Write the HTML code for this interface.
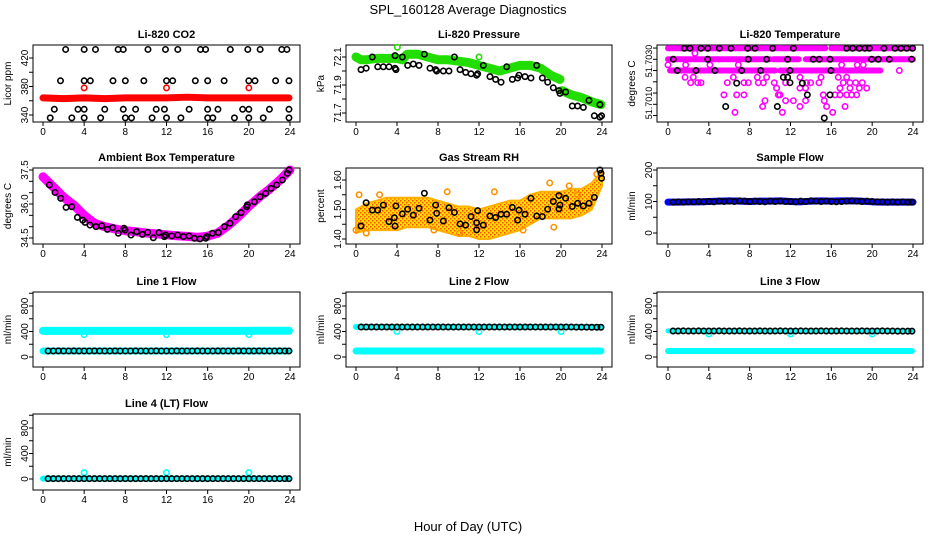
<!DOCTYPE html>
<html><head><meta charset="utf-8"><style>
html,body{margin:0;padding:0;background:#fff;}
svg{display:block;font-family:"Liberation Sans",sans-serif;}
</style></head><body>
<svg id="chart" width="936" height="540" viewBox="0 0 936 540" xmlns="http://www.w3.org/2000/svg">
<defs>
<pattern id="rhp" width="4" height="4" patternUnits="userSpaceOnUse"><rect width="4" height="4" fill="#ffdd00"/><rect x="0" y="0" width="1.5" height="1.5" fill="#ff5000"/><rect x="2" y="2" width="1.5" height="1.5" fill="#ff5000"/></pattern>
</defs>
<text x="468" y="14" text-anchor="middle" font-size="13">SPL_160128  Average Diagnostics</text>
<text x="468" y="531" text-anchor="middle" font-size="13">Hour of Day (UTC)</text>
</svg>
<script>
// ---------- data ----------
const xTicks=[0,4,8,12,16,20,24];
// CO2
const co2BandHours=[0,2,4,6,8,10,12,14,16,18,20,22,23.9];
const co2BandValues=[364,363,364,363,364,364,364,365,364,364,364,364,364];
const co2RedHours=[4,12,20];
const co2RedValues=[378,378,378];
const co2BlackHours=[2.2,4.0,5.1,7.3,7.8,10.2,11.9,13.1,15.3,15.8,18.2,19.9,21.1,23.2,23.7,
 1.7,4.0,4.6,6.8,8.0,9.8,12.0,12.6,14.8,16.0,17.6,20.0,20.6,22.6,23.9,
 1.1,3.4,4.0,6.0,7.8,9.0,11.0,11.8,14.2,16.0,17.0,19.4,20.0,22.0,23.9,
 0.7,2.8,4.0,5.6,8.0,8.6,10.6,12.0,13.4,16.0,16.5,18.6,20.0,21.4,23.9];
const co2BlackValues=[432,432,432,432,432,432,432,432,432,432,432,432,432,432,432,
 388,388,388,388,388,388,388,388,388,388,388,388,388,388,388,
 348,348,348,348,348,348,348,348,348,348,348,348,348,348,348,
 336,336,336,336,336,336,336,336,336,336,336,336,336,336,336];
// Pressure
const presBand1Hours=[0,0.5,1,2,3,4,4.5,5,6,7,8,9,10,11,12,13,14,15,16,17,18,19,19.9];
const presBand1Values=[72.10,72.08,72.08,72.09,72.09,72.09,72.08,72.12,72.12,72.10,72.08,72.08,72.07,72.06,72.04,72.02,72.00,72.02,72.04,72.04,72.02,71.97,71.94];
const presBand2Hours=[20.1,21,22,23,23.9];
const presBand2Values=[71.86,71.83,71.81,71.78,71.76];
const presGreenHours=[4.03,12.0];
const presGreenValues=[72.17,72.10];
const presBlackHours=[0.49,0.99,1.59,2.12,2.67,3.22,3.81,3.81,3.9,4.52,5.04,5.59,6.15,6.67,7.22,7.77,7.87,8.52,9.07,9.6,10.15,10.7,11.22,11.77,11.87,12.42,13.07,13.62,14.15,14.7,15.25,15.77,15.9,16.49,17.07,17.63,18.18,18.7,19.25,19.8,19.9,20.45,21.1,21.62,22.18,22.73,23.25,23.8,23.96,23.8];
const presBlackValues=[72.01,72.02,72.10,72.03,72.03,72.03,72.11,72.02,72.01,72.10,72.04,72.05,72.04,72.12,72.02,72.01,72.00,72.00,72.00,72.10,72.01,71.99,71.98,71.97,71.98,72.04,71.96,71.94,71.92,72.03,71.94,71.95,71.97,71.96,71.95,72.04,71.95,71.92,71.88,71.86,71.84,71.85,71.75,71.75,71.74,71.79,71.68,71.67,71.68,71.76];
// Temperature
const tempRunStart=[0,16.0,0,5.7,7.5,10.3,13.5,0.2,4.8,11.0];
const tempRunEnd=[15.4,24,5.5,7.3,10.0,12.8,24,4.5,10.5,20.8];
const tempRunValue=[51.70349,51.70349,51.70300,51.70300,51.70300,51.70300,51.70300,51.70250,51.70250,51.70250];
const tempPinkHours=[2.64,0.0,1.73,6.89,4.11,17.01,18.54,19.13,22.66,1.67,2.48,6.40,8.75,9.66,12.93,14.99,16.68,17.5,2.22,2.91,3.23,5.81,7.44,7.87,8.85,9.34,10.41,11.52,13.58,13.97,14.79,17.17,17.83,18.38,19.03,10.64,12.93,13.48,16.85,17.83,18.74,19.46,5.48,6.73,7.44,10.81,10.97,15.21,16.36,16.85,17.5,17.99,18.48,9.5,11.52,12.28,13.48,15.31,9.27,12.93,15.54,17.34,6.56,11.2,16.13];
const tempPinkValues=[51.70327,51.70275,51.70275,51.70275,51.70275,51.70275,51.70275,51.70275,51.70250,51.70220,51.70220,51.70220,51.70220,51.70220,51.70220,51.70220,51.70220,51.70220,51.70196,51.70196,51.70196,51.70196,51.70196,51.70196,51.70196,51.70196,51.70196,51.70196,51.70196,51.70196,51.70196,51.70196,51.70196,51.70196,51.70196,51.70172,51.70172,51.70172,51.70172,51.70172,51.70172,51.70172,51.70142,51.70142,51.70142,51.70142,51.70142,51.70142,51.70142,51.70142,51.70142,51.70142,51.70142,51.70116,51.70116,51.70116,51.70116,51.70116,51.70090,51.70090,51.70090,51.70090,51.70064,51.70064,51.70064];
const tempBlackHours=[0.52,1.6,2.15,3.23,3.89,5.03,6.17,7.8,8.52,10.25,12.28,3.89,7.87,9.66,11.72,14.23,15.87,17.5,18.09,18.74,19.29,19.72,21.16,22.23,22.82,23.38,23.96,23.87,21.68,19.95,20.6,14.82,0.91,2.74,4.6,7.22,9.08,11.95,15.96,11.3,11.72,6.73,11.95,13.16,13.65,15.87,5.65,10.71,15.31];
const tempBlackValues=[51.70300,51.70349,51.70349,51.70349,51.70349,51.70349,51.70349,51.70349,51.70349,51.70349,51.70349,51.70300,51.70300,51.70300,51.70300,51.70300,51.70300,51.70349,51.70349,51.70349,51.70349,51.70349,51.70349,51.70349,51.70349,51.70349,51.70349,51.70300,51.70300,51.70300,51.70300,51.70300,51.70250,51.70250,51.70250,51.70250,51.70250,51.70250,51.70250,51.70220,51.70220,51.70194,51.70196,51.70194,51.70142,51.70142,51.70090,51.70090,51.70039];
// Ambient
const ambPinkHours=[0,1,2,3,4,5,6,7,8,9,10,11,12,13,14,15,16,17,18,19,20,21,22,23,24];
const ambPinkValues=[37.2,36.75,36.3,35.95,35.5,35.15,35.0,34.9,34.82,34.78,34.72,34.68,34.64,34.6,34.57,34.53,34.58,34.72,35.05,35.45,35.9,36.3,36.65,37.05,37.5];
const ambBlackHours=[0.62,1.17,1.72,2.24,2.79,3.34,3.86,4.08,4.57,5.15,5.70,6.25,6.77,7.32,7.87,7.97,8.55,9.1,9.65,10.17,10.72,11.27,11.79,11.92,12.5,13.09,13.64,14.19,14.71,15.26,15.81,15.91,16.46,17.04,17.62,18.17,18.72,19.24,19.79,19.86,20.54,21.09,21.64,22.16,22.71,23.26,23.74,23.91];
const ambBlackValues=[36.84,36.51,36.25,35.85,35.88,35.41,35.29,35.19,35.07,35.0,35.04,34.88,34.96,34.71,34.93,34.85,34.63,34.78,34.66,34.75,34.51,34.74,34.56,34.63,34.59,34.63,34.56,34.59,34.49,34.46,34.49,34.56,34.71,34.74,35.0,35.15,35.44,35.62,35.88,35.96,36.10,36.32,36.47,36.69,36.84,37.06,37.35,37.5];
// RH
const rhBandHours=[0,1,2,3,4,5,6,7,8,9,10,11,12,13,14,15,16,17,18,19,20,21,22,23,24];
const rhBandLower=[1.42,1.43,1.43,1.43,1.43,1.44,1.44,1.44,1.43,1.42,1.41,1.41,1.40,1.40,1.41,1.42,1.43,1.45,1.47,1.47,1.47,1.47,1.48,1.50,1.58];
const rhBandUpper=[1.50,1.52,1.53,1.54,1.54,1.54,1.54,1.54,1.53,1.52,1.51,1.51,1.50,1.51,1.52,1.53,1.53,1.55,1.56,1.56,1.56,1.57,1.57,1.59,1.63];
const rhOrangeHours=[0.0,0.3,1.0,2.3,7.6,8.9,10.1,13.5,16.3,18.9,19.3,20.8,21.6,23.5];
const rhOrangeValues=[1.43,1.55,1.42,1.55,1.43,1.56,1.42,1.56,1.43,1.59,1.44,1.58,1.55,1.62];
const rhBlackHours=[0.49,0.99,1.59,2.12,2.67,3.22,3.74,3.81,3.9,4.52,5.04,5.59,6.15,6.67,7.22,7.77,7.87,8.52,9.07,9.6,10.15,10.7,11.22,11.77,11.77,11.87,12.42,13.07,13.62,14.15,14.7,15.25,15.77,15.9,16.49,17.07,17.63,18.18,18.7,19.25,19.8,19.8,19.9,20.45,21.1,21.62,22.18,22.73,23.25,23.8,23.9,23.96];
const rhBlackValues=[1.444,1.523,1.498,1.498,1.515,1.459,1.472,1.444,1.512,1.485,1.501,1.481,1.504,1.555,1.464,1.515,1.487,1.461,1.506,1.490,1.451,1.447,1.476,1.455,1.431,1.496,1.447,1.478,1.473,1.484,1.484,1.507,1.464,1.498,1.484,1.538,1.478,1.476,1.501,1.527,1.547,1.502,1.515,1.538,1.510,1.521,1.512,1.521,1.541,1.634,1.623,1.606];
// Sample flow
const sfBlueHours=[0,1,2,3,4,5,6,7,8,9,10,11,12,13,14,15,16,17,18,19,20,21,22,23,24];
const sfBlueValues=[98,98,99,99,100,101,102,101,100,101,101,102,100,99,101,102,101,102,102,101,99,98,98,98,98];
const halfHours=[0.5,1,1.5,2,2.5,3,3.5,4,4.5,5,5.5,6,6.5,7,7.5,8,8.5,9,9.5,10,10.5,11,11.5,12,12.5,13,13.5,14,14.5,15,15.5,16,16.5,17,17.5,18,18.5,19,19.5,20,20.5,21,21.5,22,22.5,23,23.5,23.9];
const sfBlackValues=[98,99,98,99,99,100,99,100,99,101,100,101,100,102,101,100,101,100,99,101,100,101,100,100,99,101,100,102,101,100,101,100,99,100,101,102,101,100,101,100,99,99,98,99,98,99,98,98];
// Line flows
const flowHours=[0,1,2,3,4,5,6,7,8,9,10,11,12,13,14,15,16,17,18,19,20,21,22,23,23.9];
const l1CyanHigh=[410,410,410,410,410,410,410,410,410,410,410,410,410,410,410,410,410,410,410,410,410,412,412,412,412];
const l1CyanLow=[95,95,95,95,95,95,95,95,95,95,95,95,95,95,95,95,95,95,95,95,95,95,95,95,95];
const l1Black=[95,95,96,95,95,96,95,95,95,96,95,95,95,96,95,95,95,96,95,95,95,96,95,95,95,96,95,95,95,96,95,95,95,96,95,95,95,96,95,95,95,96,95,95,95,96,95,95];
const dipHours=[4,12,20];
const l1Dips=[350,350,350];
const l2CyanLow=[95,95,95,95,95,95,95,95,95,95,95,95,95,95,95,95,95,95,95,95,95,95,95,95,95];
const l2CyanHigh=[472,470,470,470,470,470,470,470,470,470,470,470,470,470,470,470,470,470,470,470,470,470,470,470,470];
const l2Black=[470,470,471,470,470,471,470,470,470,471,470,470,470,471,470,470,470,471,470,470,470,471,470,470,470,471,470,470,470,471,470,470,470,471,470,470,470,471,470,470,470,471,468,468,468,467,467,467];
const l2Dips=[400,400,400];
const l3CyanLow=[95,95,95,95,95,95,95,95,95,95,95,95,95,95,95,95,95,95,95,95,95,95,95,95,95];
const l3CyanHigh=[410,408,408,408,408,408,408,408,408,408,408,408,408,408,408,408,408,408,408,408,408,408,408,408,408];
const l3Black=[408,408,409,408,408,409,408,408,408,409,408,408,408,409,408,408,408,409,408,408,408,409,408,408,408,409,408,408,408,409,408,408,408,409,408,408,408,409,408,408,408,409,408,408,405,405,405,405];
const l3Dips=[360,360,360];
const l4Cyan=[5,5,5,5,5,5,5,5,5,5,5,5,5,5,5,5,5,5,5,5,5,5,5,5,5];
const l4Black=[5,5,5,5,5,5,5,5,5,5,5,5,5,5,5,5,5,5,5,5,5,5,5,5,5,5,5,5,5,5,5,5,5,5,5,5,5,5,5,5,5,5,5,5,5,5,5,5];
const l4Spikes=[100,100,100];

// ---------- drawing ----------
const NS='http://www.w3.org/2000/svg';
const svg=document.getElementById('chart');
const colL=[33,346,657], colR=[300,612,923], colX0=[43,356,668], colX24=[290,602,913];
const rowT=[45,168,292,414], rowB=[122,244,367,490];
function mk(tag,attrs,parent){const e=document.createElementNS(NS,tag);for(const k in attrs)e.setAttribute(k,attrs[k]);if(parent)parent.appendChild(e);return e;}

function panel(c,r,name,title,ylab,yA,pA,yB,pB,ticks,labels,labelPos,labelSize){
  const L=colL[c],R=colR[c],T=rowT[r],B=rowB[r],X0=colX0[c],X24=colX24[c];
  const g=mk('g',{},svg);
  
  
  const sx=h=>X0+(X24-X0)*h/24;
  const sy=v=>pA+(v-yA)*(pB-pA)/(yB-yA);
  const box=mk('rect',{x:L,y:T,width:R-L,height:B-T,fill:'none',stroke:'#000','stroke-width':1},g);
  
  
  const tt=mk('text',{x:(L+R)/2,y:T-7,'text-anchor':'middle','font-size':11,'font-weight':'bold'},g);
  tt.textContent=title;
  
  
  const yl=mk('text',{x:L-22,y:(T+B)/2,'text-anchor':'middle','font-size':10,transform:`rotate(-90 ${L-22} ${(T+B)/2})`},g);
  yl.textContent=ylab;
  
  
  ticks.forEach(v=>{
    const ln=mk('line',{x1:L-4,x2:L,y1:sy(v),y2:sy(v),stroke:'#000'},g);
    
    
  });
  labels.forEach((s,i)=>{
    const yy=labelPos?labelPos[i]:sy(parseFloat(s));
    const t=mk('text',{x:L-5,y:yy,'text-anchor':'middle','font-size':labelSize||10,transform:`rotate(-90 ${L-5} ${yy})`},g);
    t.textContent=s;
    
    
  });
  xTicks.forEach(h=>{
    const ln=mk('line',{x1:sx(h),x2:sx(h),y1:B,y2:B+4,stroke:'#000'},g);
    
    
    const t=mk('text',{x:sx(h),y:B+13,'text-anchor':'middle','font-size':10},g);
    t.textContent=String(h);
    
    
  });
  const clip=mk('g',{},g);
  
  
  return {g:clip,sx,sy};
}
function points(p,hours,vals,color,name,r,sw){
  hours.forEach((h,i)=>{
    const c=mk('circle',{cx:p.sx(h),cy:p.sy(vals[i]),r:r||2.7,fill:'none',stroke:color,'stroke-width':sw||1.6},p.g);
    
    
  });
}
function band(p,hours,vals,color,width,name){
  const pts=hours.map((h,i)=>p.sx(h)+','+p.sy(vals[i])).join(' ');
  const pl=mk('polyline',{points:pts,fill:'none',stroke:color,'stroke-width':width,'stroke-linecap':'round','stroke-linejoin':'round'},p.g);
  
  
}

// CO2
let p=panel(0,0,'co2','Li-820 CO2','Licor ppm',340,115,420,58,[340,360,380,400,420],['340','380','420']);
band(p,co2BandHours,co2BandValues,'#ff0000',7,'co2-red-band');
points(p,co2RedHours,co2RedValues,'#ff0000','co2-red-point');
points(p,co2BlackHours,co2BlackValues,'#000','co2-black-point');
// Pressure
p=panel(1,0,'pressure','Li-820 Pressure','kPa',71.7,113,72.1,57,[71.7,71.8,71.9,72.0,72.1],['71.7','71.9','72.1']);
band(p,presBand1Hours,presBand1Values,'#22dd00',9,'pressure-green-band');
band(p,presBand2Hours,presBand2Values,'#22dd00',9,'pressure-green-band');
points(p,presGreenHours,presGreenValues,'#22dd00','pressure-green-point');
points(p,presBlackHours,presBlackValues,'#000','pressure-black-point');
// Temperature
p=panel(2,0,'temperature','Li-820 Temperature','degrees C',51.7010,104.3,51.7030,59.3,[51.7035,51.7030,51.7025,51.7020,51.7015,51.7010,51.7005],['51.7030','51.7010'],[61,103],9);
tempRunStart.forEach((s,i)=>{
  const ln=mk('line',{x1:p.sx(s),x2:p.sx(tempRunEnd[i]),y1:p.sy(tempRunValue[i]),y2:p.sy(tempRunValue[i]),stroke:'#ff00ff','stroke-width':6,'stroke-linecap':'round'},p.g);
  
  
});
points(p,tempPinkHours,tempPinkValues,'#ff00ff','temperature-pink-point');
points(p,tempBlackHours,tempBlackValues,'#000','temperature-black-point');
// Ambient
p=panel(0,1,'ambient','Ambient Box Temperature','degrees C',34.5,238,37.5,170,[34.5,35.0,35.5,36.0,36.5,37.0,37.5],['34.5','36.0','37.5']);
band(p,ambPinkHours,ambPinkValues,'#ff00ff',9,'ambient-pink-band');
points(p,ambBlackHours,ambBlackValues,'#000','ambient-black-point');
// RH
p=panel(1,1,'rh','Gas Stream RH','percent',1.40,239,1.60,180,[1.40,1.45,1.50,1.55,1.60],['1.40','1.50','1.60']);
{
  const up=rhBandHours.map((h,i)=>p.sx(h)+','+p.sy(rhBandUpper[i]));
  const lo=rhBandHours.map((h,i)=>p.sx(h)+','+p.sy(rhBandLower[i])).reverse();
  const poly=mk('polygon',{points:up.concat(lo).join(' '),fill:'url(#rhp)',stroke:'#ffb000','stroke-width':2,'stroke-linejoin':'round'},p.g);
  
  
}
points(p,rhOrangeHours,rhOrangeValues,'#ff9000','rh-orange-point');
points(p,rhBlackHours,rhBlackValues,'#000','rh-black-point');
// Sample flow
p=panel(2,1,'sample-flow','Sample Flow','ml/min',0,233,200,170,[0,50,100,150,200],['0','100','200']);
band(p,sfBlueHours,sfBlueValues,'#0000ff',7,'sample-flow-blue-band');
points(p,halfHours,sfBlackValues,'#000','sample-flow-black-point');
// Line flows
const flowTicks=[0,200,400,600,800,1000], flowLabels=['0','400','800'];
p=panel(0,2,'line1','Line 1 Flow','ml/min',0,357,800,306,flowTicks,flowLabels);
band(p,flowHours,l1CyanHigh,'#00ffff',8,'line1-cyan-high-band');
band(p,flowHours,l1CyanLow,'#00ffff',7,'line1-cyan-low-band');
points(p,dipHours,l1Dips,'#00ffff','line1-cyan-dip');
points(p,halfHours,l1Black,'#000','line1-black-point');
p=panel(1,2,'line2','Line 2 Flow','ml/min',0,357,800,306,flowTicks,flowLabels);
band(p,flowHours,l2CyanLow,'#00ffff',7,'line2-cyan-low-band');
band(p,flowHours,l2CyanHigh,'#00ffff',6,'line2-cyan-high-band');
points(p,dipHours,l2Dips,'#00ffff','line2-cyan-dip');
points(p,halfHours,l2Black,'#000','line2-black-point');
p=panel(2,2,'line3','Line 3 Flow','ml/min',0,357,800,306,flowTicks,flowLabels);
band(p,flowHours,l3CyanLow,'#00ffff',6,'line3-cyan-low-band');
band(p,flowHours,l3CyanHigh,'#00ffff',5,'line3-cyan-high-band');
points(p,dipHours,l3Dips,'#00ffff','line3-cyan-dip');
points(p,halfHours,l3Black,'#000','line3-black-point');
p=panel(0,3,'line4','Line 4 (LT) Flow','ml/min',0,479,800,428,flowTicks,flowLabels);
band(p,flowHours,l4Cyan,'#00ffff',6,'line4-cyan-band');
points(p,dipHours,l4Spikes,'#00ffff','line4-cyan-spike');
points(p,halfHours,l4Black,'#000','line4-black-point');
</script>
</body></html>
